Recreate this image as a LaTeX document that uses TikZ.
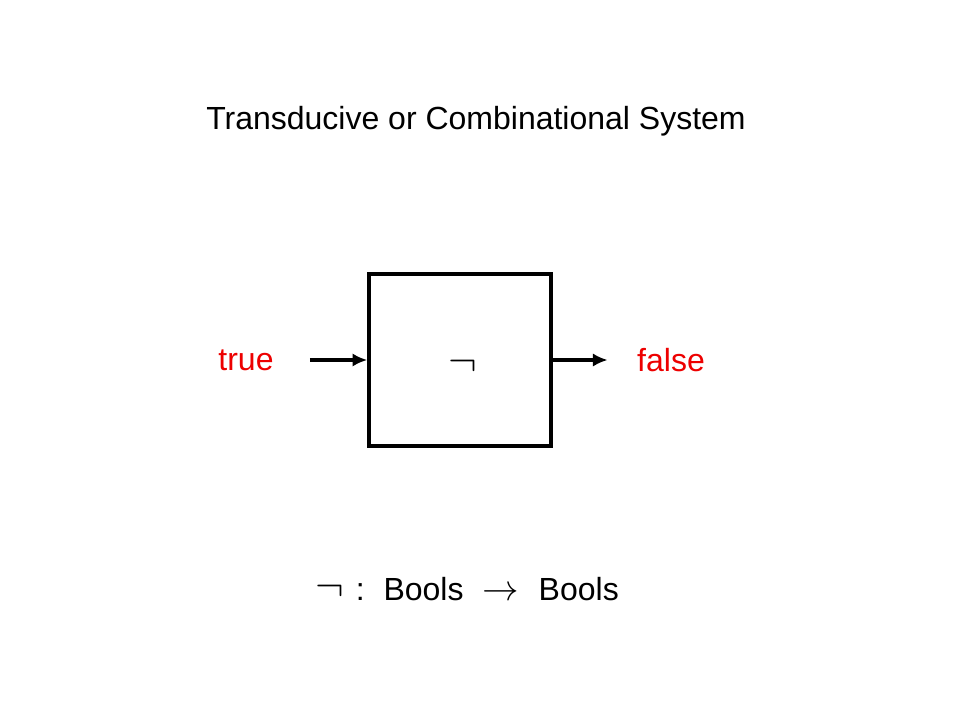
\documentclass[tikz,border=0pt]{standalone}
\usepackage{amsmath}
\usepackage{amssymb}
\usepackage{fontspec}
\setmainfont{Liberation Sans}
\usepackage{tikz}
\usetikzlibrary{arrows.meta,positioning}
\definecolor{labelred}{RGB}{237,0,0}
\newcommand{\bigfont}[0]{\fontsize{24}{28}\selectfont}
\newcommand{\negsign}[0]{\scalebox{1.3}{$\neg$}}

\begin{document}
\begin{tikzpicture}[x=0.75pt,y=-0.75pt]
\tikzstyle{every node}=[font=\bigfont,inner sep=2pt]
\tikzstyle{sysbox}=[draw,line width=3.2pt,minimum width=136pt,minimum height=129pt]
\tikzstyle{io}=[text=labelred]
\tikzstyle{wire}=[line width=2.6pt,-{Latex[length=11pt,width=10pt]}]
\useasboundingbox (0,0) rectangle (960,720);
\node (title) at (476,121) {Transducive or Combinational System};
\node[sysbox] (neg) at (460,360) {};
\node (negsym) at (463,366) {\negsign};
\node[io] (true) at (246,360) {true};
\node[io] (false) at (671,360) {false};
\draw[wire,shorten <=25pt] (true) -- (neg);
\draw[wire,shorten >=20pt] (neg) -- (false);
%\node at (467,589) {...};
\node (sig) at (467,589) {\negsign\hspace{9pt}:\hspace{14pt}Bools\hspace{14pt}\scalebox{1.1}{$\rightarrow$}\hspace{15pt}Bools};
\end{tikzpicture}
\end{document}
